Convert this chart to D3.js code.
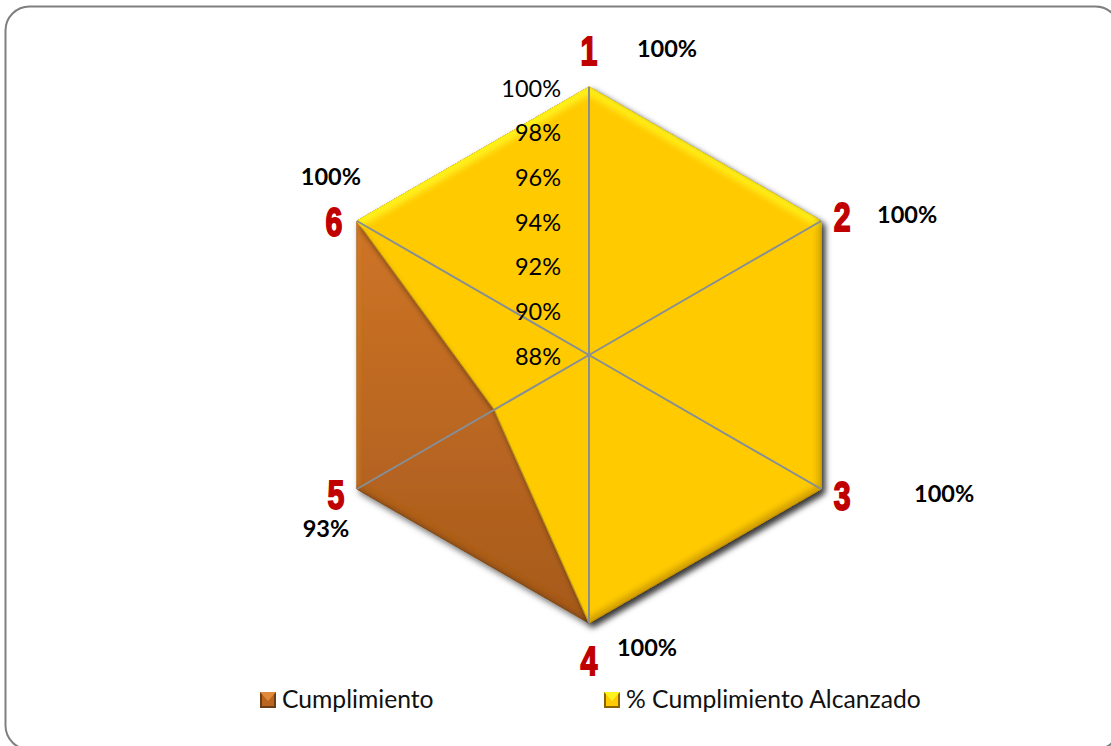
<!doctype html>
<html>
  <head>
    <title>Cumplimiento</title>
    <style>
      * { margin: 0; padding: 0; box-sizing: border-box; }
      body { background: #fff; font-family: Lato, "Open Sans", Arial, sans-serif; overflow: hidden; }
      svg { display: block; }
      .num { font-family: "Liberation Sans", Arial; font-weight: bold; font-size: 41px; fill: #c00000; stroke: #c00000; stroke-width: 1.8px; text-anchor: middle; }
      .val { font-size: 23.5px; font-weight: bold; fill: #000; text-anchor: middle; }
      .tick { font-size: 23.5px; fill: #000; text-anchor: end; }
      text.leg { font-size: 24.7px; fill: #111; }
    </style>
    <script src="https://d3js.org/d3.v7.min.js"></script>
  </head>
  <body>
    <div id="chart"></div>
    <script>
      // datos
      const categorias = ["1", "2", "3", "4", "5", "6"];
      const cumplimiento = [100, 100, 100, 100, 100, 100];
      const alcanzado = [100, 100, 100, 100, 92.9, 100];
      const etiquetas = ["100%", "100%", "100%", "100%", "93%", "100%"];
      const ticks = [88, 90, 92, 94, 96, 98, 100];
      const leyenda = ["Cumplimiento", "% Cumplimiento Alcanzado"];

      const width = 1111, height = 746;
      const cx = 589, cy = 355, radio = 268;

      const svg = d3.select("#chart").append("svg").attr("width", width).attr("height", height);
      const defs = svg.append("defs");

      // gradiente del area cafe
      const grad = defs.append("linearGradient").attr("id", "cafe").attr("x1", 0).attr("y1", 0).attr("x2", 0).attr("y2", 1);
      grad.append("stop").attr("offset", "0%").attr("stop-color", "#dc7d2a");
      grad.append("stop").attr("offset", "100%").attr("stop-color", "#a65a1c");

      // bisel + sombra
      function bisel(id, claro, oscuro) {
        const f = defs.append("filter").attr("id", id)
          .attr("x", "-5%").attr("y", "-5%").attr("width", "110%").attr("height", "110%");
        f.append("feGaussianBlur").attr("in", "SourceAlpha").attr("stdDeviation", 3).attr("result", "b");
        f.append("feOffset").attr("in", "b").attr("dx", 0).attr("dy", 8).attr("result", "bAbajo");
        f.append("feComposite").attr("in", "SourceAlpha").attr("in2", "bAbajo").attr("operator", "out").attr("result", "arriba");
        f.append("feFlood").attr("flood-color", claro).attr("flood-opacity", 1);
        f.append("feComposite").attr("in2", "arriba").attr("operator", "in").attr("result", "luz");
        f.append("feOffset").attr("in", "b").attr("dx", -4).attr("dy", -4).attr("result", "bArriba");
        f.append("feComposite").attr("in", "SourceAlpha").attr("in2", "bArriba").attr("operator", "out").attr("result", "abajo");
        f.append("feFlood").attr("flood-color", oscuro).attr("flood-opacity", 0.85);
        f.append("feComposite").attr("in2", "abajo").attr("operator", "in").attr("result", "som");
        f.append("feOffset").attr("in", "SourceAlpha").attr("dx", 3).attr("dy", 4).attr("result", "off");
        f.append("feGaussianBlur").attr("in", "off").attr("stdDeviation", 3).attr("result", "offb");
        f.append("feFlood").attr("flood-color", "#000").attr("flood-opacity", 0.55);
        f.append("feComposite").attr("in2", "offb").attr("operator", "in").attr("result", "sombra");
        const m = f.append("feMerge");
        ["sombra", "SourceGraphic", "luz", "som"].forEach(function (n) {
          m.append("feMergeNode").attr("in", n);
        });
      }
      bisel("biselCafe", "#e08a3a", "#6e3c14");
      bisel("biselAmarillo", "#fff21e", "#c79200");

      // marco, se sale del lienzo por la derecha y por abajo
      svg.append("rect").attr("x", 5.5).attr("y", 6.5).attr("width", 1114).attr("height", 743)
        .attr("rx", 24).attr("fill", "#fff").attr("stroke", "#7f7f7f").attr("stroke-width", 2);

      // escalas
      const r = d3.scaleLinear().domain([88, 100]).range([0, radio]);
      const ang = d3.scalePoint().domain(categorias).range([0, 2 * Math.PI * 5 / 6]);
      const linea = d3.lineRadial()
        .angle(function (d, i) { return ang(categorias[i]); })
        .radius(function (d) { return r(d); })
        .curve(d3.curveLinearClosed);
      const g = svg.append("g").attr("transform", "translate(" + cx + "," + cy + ")");

      g.append("path").attr("d", linea(cumplimiento)).attr("fill", "url(#cafe)")
        .attr("stroke", "#8f5a24").attr("stroke-width", 1).attr("filter", "url(#biselCafe)");
      g.append("path").attr("d", linea(alcanzado)).attr("fill", "#ffcb05")
        .attr("stroke", "#a8892a").attr("stroke-width", 1).attr("filter", "url(#biselAmarillo)");

      // radios
      function px(c, v) { return r(v) * Math.sin(ang(c)); }
      function py(c, v) { return -r(v) * Math.cos(ang(c)); }
      g.selectAll("line.radio").data(categorias).enter().append("line")
        .attr("class", "radio")
        .attr("x1", 0).attr("y1", 0)
        .attr("x2", function (c) { return px(c, 100); })
        .attr("y2", function (c) { return py(c, 100); })
        .attr("stroke", "#868e96").attr("stroke-width", 2);

      // eje
      g.selectAll("text.tick").data(ticks).enter().append("text")
        .attr("class", "tick")
        .attr("x", -28)
        .attr("y", function (d) { return -r(d) + 9.5; })
        .text(function (d) { return d + "%"; });

      // numeros y etiquetas, desplazados desde cada vertice
      const despNum = [[0, -22], [21, 10], [21, 21], [0, 52], [-21, 20], [-23, 15]];
      const despVal = [[78, -30], [86, 2], [123, 13], [58, 33], [-31, 48], [-26, -36]];
      g.selectAll("text.num").data(categorias).enter().append("text")
        .attr("class", "num")
        .attr("transform", function (c, i) {
          return "translate(" + (px(c, 100) + despNum[i][0]) + "," + (py(c, 100) + despNum[i][1]) + ") scale(0.74,1)";
        })
        .text(function (c) { return c; });
      g.selectAll("text.val").data(etiquetas).enter().append("text")
        .attr("class", "val")
        .attr("x", function (d, i) { return px(categorias[i], 100) + despVal[i][0]; })
        .attr("y", function (d, i) { return py(categorias[i], 100) + despVal[i][1]; })
        .text(function (d) { return d; });

      // leyenda
      const legX = [260, 604];
      const legFill = ["#b9651f", "#ffcb05"];
      const legBisel = ["#e08a3a", "#fff21e"];
      const legBorde = ["#6e3c14", "#8a6400"];
      const lg = svg.selectAll("g.legItem").data(leyenda).enter().append("g")
        .attr("class", "legItem")
        .attr("transform", function (d, i) { return "translate(" + legX[i] + ",692)"; });
      lg.append("rect").attr("width", 16).attr("height", 16)
        .attr("fill", function (d, i) { return legBorde[i]; });
      lg.append("rect").attr("x", 2).attr("y", 2).attr("width", 12).attr("height", 12)
        .attr("fill", function (d, i) { return legFill[i]; });
      lg.append("path").attr("d", "M0 0H16L8 9Z")
        .attr("fill", function (d, i) { return legBisel[i]; });
      lg.append("text").attr("class", "leg").attr("x", 22).attr("y", 16)
        .text(function (d) { return d; });
    </script>
  </body>
</html>
